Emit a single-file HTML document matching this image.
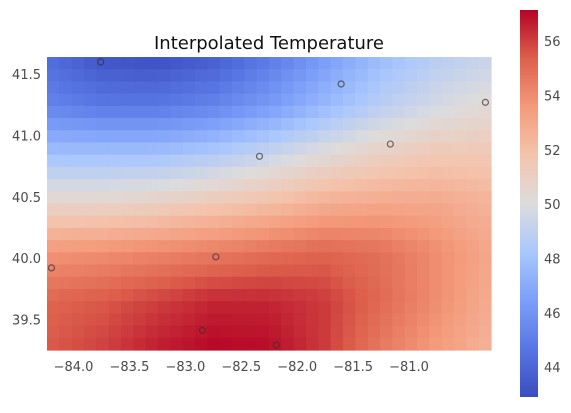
<!DOCTYPE html>
<html><head><meta charset="utf-8"><style>
body{margin:0;background:#fff;}
svg text{font-family:"DejaVu Sans","Liberation Sans",sans-serif;}
</style></head><body>
<svg id="chart" width="571" height="408" xmlns="http://www.w3.org/2000/svg">
<text x="269" y="49" font-size="18" text-anchor="middle" fill="#111">Interpolated Temperature</text>
<g id="heat"></g>
<g id="pts"></g>
<g id="xt"></g>
<g id="yt"></g>
<g id="cb"></g>
</svg>
<script>
const xTicks=[-84.0,-83.5,-83.0,-82.5,-82.0,-81.5,-81.0];
const yTicks=[39.5,40.0,40.5,41.0,41.5];
const cbTicks=[44,46,48,50,52,54,56];
const stationLon=[-83.74,-81.59,-80.30,-81.15,-82.32,-84.18,-82.71,-82.83,-82.17];
const stationLat=[41.60,41.42,41.27,40.93,40.83,39.92,40.01,39.41,39.29];
// coarse grid of temperatures (rows top->bottom, cols left->right)
const gridRow0=[44.3,43.2,43.0,43.6,44.8,46.3,47.7,48.7,49.3];
const gridRow1=[45.3,44.8,44.8,45.3,46.3,47.6,48.8,49.7,50.3];
const gridRow2=[48.0,48.0,48.0,48.5,49.3,50.2,51.0,51.5,51.5];
const gridRow3=[50.7,50.7,51.0,51.5,52.0,52.7,53.0,53.0,52.5];
const gridRow4=[53.7,53.9,54.2,54.5,54.9,55.2,54.9,54.0,53.0];
const gridRow5=[55.2,55.5,56.0,56.5,56.5,56.1,55.1,54.0,52.8];
const gridRow6=[55.5,56.0,56.7,57.1,57.0,56.1,54.6,53.5,52.5];
const grid=[gridRow0,gridRow1,gridRow2,gridRow3,gridRow4,gridRow5,gridRow6];
const vMin=42.9,vMax=57.15;
const NX=36,NY=24;
const L=47,R=491,T=57,B=350;
const lonMin=-84.22,lonMax=-80.25,latMin=39.25,latMax=41.64;
const sx=v=>L+(v-lonMin)/(lonMax-lonMin)*(R-L);
const sy=v=>B-(v-latMin)/(latMax-latMin)*(B-T);
const stops=[[0,[59,76,192]],[0.125,[88,118,227]],[0.25,[124,159,249]],[0.375,[170,199,253]],[0.5,[221,220,220]],[0.625,[244,196,173]],[0.75,[244,154,123]],[0.875,[221,96,76]],[1,[180,4,38]]];
function cmap(t){t=Math.max(0,Math.min(1,t));for(let i=1;i<stops.length;i++){if(t<=stops[i][0]){const a=stops[i-1],b=stops[i];const f=(t-a[0])/(b[0]-a[0]);const c=a[1].map((v,k)=>Math.round(v+(b[1][k]-v)*f));return `rgb(${c})`;}}return 'rgb(180,4,38)';}
function sample(u,v){const gx=u*(grid[0].length-1),gy=v*(grid.length-1);const i=Math.min(Math.floor(gx),grid[0].length-2),j=Math.min(Math.floor(gy),grid.length-2);const fx=gx-i,fy=gy-j;
const a=grid[j][i]*(1-fx)+grid[j][i+1]*fx,b=grid[j+1][i]*(1-fx)+grid[j+1][i+1]*fx;return a*(1-fy)+b*fy;}
const NS='http://www.w3.org/2000/svg';
function mk(t,attrs,parent){const e=document.createElementNS(NS,t);for(const k in attrs)e.setAttribute(k,attrs[k]);parent.appendChild(e);return e;}
const heat=document.getElementById('heat');
const cw=(R-L)/NX,ch=(B-T)/NY;
for(let j=0;j<NY;j++)for(let i=0;i<NX;i++){
 const val=sample((i+0.5)/NX,(j+0.5)/NY);
 const r=mk('rect',{x:(L+i*cw).toFixed(2),y:(T+j*ch).toFixed(2),width:(cw+0.6).toFixed(2),height:(ch+0.6).toFixed(2),fill:cmap((val-vMin)/(vMax-vMin))},heat);
 
 
}
const pts=document.getElementById('pts');
stationLon.forEach((lo,k)=>{const c=mk('circle',{cx:sx(lo),cy:sy(stationLat[k]),r:3,fill:'none',stroke:'#333','stroke-width':1.2,'stroke-opacity':0.7},pts);
 
 });
const xt=document.getElementById('xt');
xTicks.forEach(v=>{const t=mk('text',{x:sx(v)-18,y:371,'font-size':13,fill:'#4a4a4a'},xt);t.textContent='\u2212'+Math.abs(v).toFixed(1);
 
 });
const yt=document.getElementById('yt');
yTicks.forEach(v=>{const t=mk('text',{x:41,y:sy(v)+5,'font-size':13,fill:'#4a4a4a','text-anchor':'end'},yt);t.textContent=v.toFixed(1);
 
 });
const cb=document.getElementById('cb');
const cT=10,cB=397,cL=520,cW=18;
const defs=mk('defs',{},cb);const lg=mk('linearGradient',{id:'cg',x1:0,y1:1,x2:0,y2:0},defs);
stops.forEach(s=>mk('stop',{offset:s[0],'stop-color':`rgb(${s[1]})`},lg));
const bar=mk('rect',{x:cL,y:cT,width:cW,height:cB-cT,fill:'url(#cg)'},cb);


const cy=v=>cB-(v-vMin)/(vMax-vMin)*(cB-cT);
cbTicks.forEach(v=>{const t=mk('text',{x:544,y:cy(v)+5,'font-size':13,fill:'#4a4a4a'},cb);t.textContent=v;
 
 });
</script>
</body></html>
